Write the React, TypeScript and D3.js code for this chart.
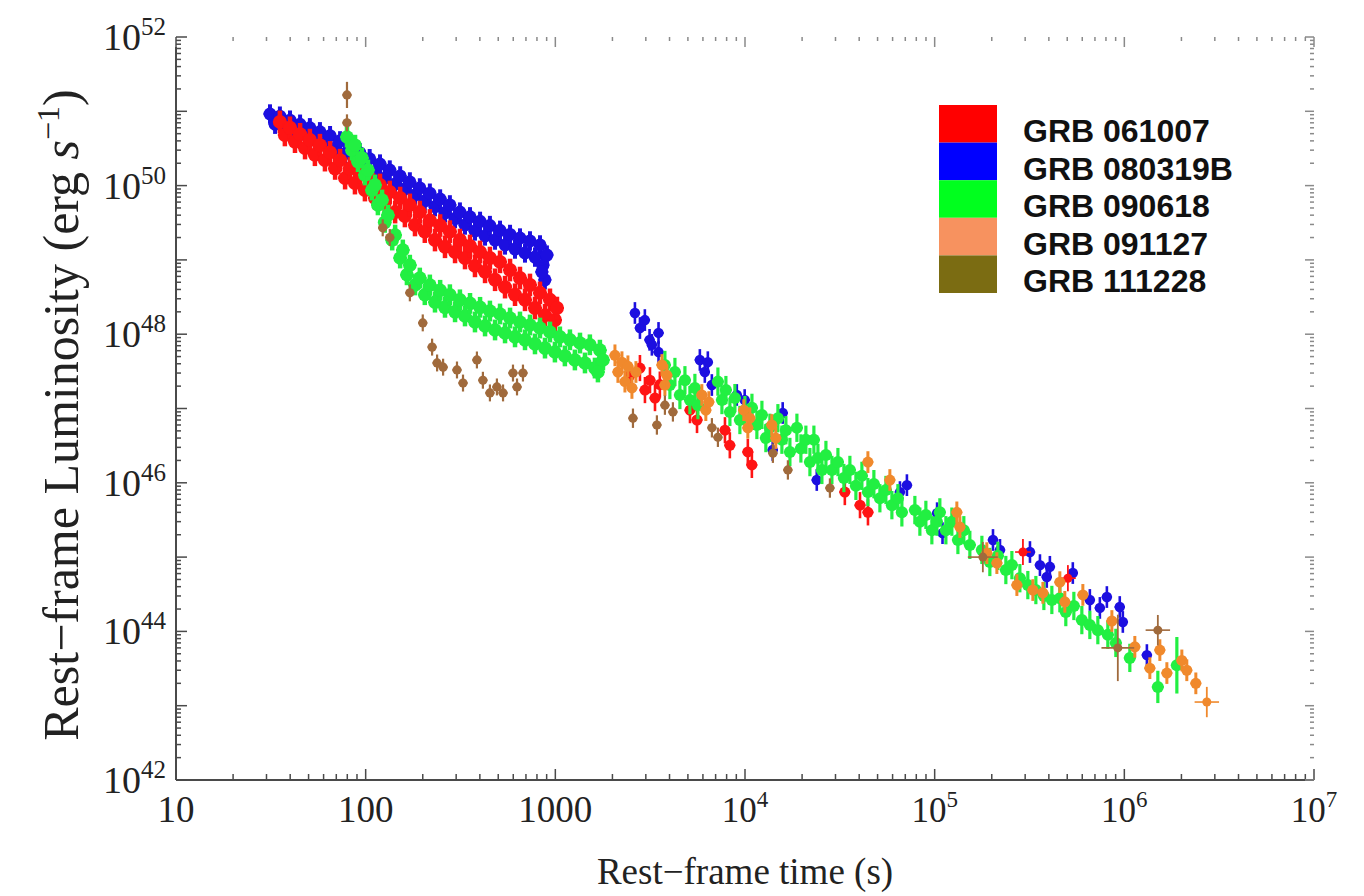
import React from 'react';
import * as d3 from 'd3';

type Pt = number[]; // [time (s), luminosity (erg/s), optional L error factor, optional t error factor]

// ---------- tick labels ----------
const xTickExps = [1, 2, 3, 4, 5, 6, 7];
const yTickExps = [42, 44, 46, 48, 50, 52];

// ---------- legend ----------
const seriesNames = ['GRB 061007', 'GRB 080319B', 'GRB 090618', 'GRB 091127', 'GRB 111228'];
const legendColors = ['#ff0000', '#0000ff', '#00ff1e', '#f7925f', '#7b6c12'];
const dataColors = ['#ff1414', '#1c0fe0', '#22ef42', '#f0892c', '#a06a3c'];

// ---------- GRB 061007 (red) ----------
const grb061007Early: Pt[] = [
  [35.3, 7.2e50], [37.5, 4.8e50], [39.9, 6.0e50], [42.4, 3.9e50], [45.1, 4.9e50], [47.9, 3.2e50],
  [50.8, 4.1e50], [54.0, 2.6e50], [57.4, 3.5e50], [61.0, 2.2e50], [64.9, 2.8e50], [69.0, 1.7e50],
  [73.3, 2.2e50], [77.9, 1.26e50], [82.6, 1.7e50], [87.8, 1.08e50], [93.3, 1.5e50], [99.1, 8.7e49],
  [105, 1.26e50], [112, 6.8e49], [119, 1.02e50], [126, 5.8e49], [134, 8.2e49], [143, 4.4e49],
  [152, 6.8e49], [161, 3.9e49], [171, 5.5e49], [182, 2.95e49], [193, 4.4e49], [205, 2.4e49],
  [218, 3.4e49], [232, 1.85e49], [247, 2.9e49], [262, 1.5e49], [278, 2.4e49], [296, 1.28e49],
  [314, 1.85e49], [334, 1.06e49], [355, 1.54e49], [377, 8.3e48], [401, 1.28e49], [426, 6.9e48],
  [452, 1.06e49], [481, 5.4e48], [511, 9.4e48], [543, 4.3e48], [577, 7.3e48], [613, 3.4e48],
  [651, 5.7e48], [692, 2.9e48], [735, 4.6e48], [781, 2.25e48], [830, 3.6e48], [882, 1.8e48],
  [937, 2.9e48], [995, 1.55e48], [1020, 2.25e48],
];
const grb061007Late: Pt[] = [
  [2473, 2.8e47], [2793, 3.5e47], [2968, 1.77e47], [3155, 2.4e47], [3353, 1.38e47], [3557, 2.1e47],
  [5129, 9.5e46], [5585, 7.0e46], [7841, 5.1e46], [8318, 3.2e46], [1.035e4, 2.6e46], [1.087e4, 1.74e46],
  [3.36e4, 7.5e45], [4.04e4, 5.0e45], [4.45e4, 4.0e45], [2.92e5, 1.17e45, 1.5, 1.1], [5.04e5, 5.2e44, 1.5, 1.1],
];

// ---------- GRB 080319B (blue) ----------
const grb080319BEarly: Pt[] = [
  [31.3, 9.2e50], [33.3, 6.7e50], [35.3, 8.6e50], [37.5, 6.2e50], [39.9, 7.6e50], [42.4, 5.4e50],
  [45.1, 6.7e50], [47.9, 4.9e50], [50.8, 6.0e50], [54.0, 4.2e50], [57.4, 5.3e50], [61.0, 3.7e50],
  [64.9, 4.7e50], [69.0, 3.2e50], [73.3, 4.0e50], [77.9, 2.7e50], [82.6, 3.3e50], [87.8, 2.2e50],
  [93.3, 2.75e50], [99.1, 1.73e50], [105, 2.3e50], [112, 1.48e50], [119, 1.95e50], [126, 1.26e50],
  [134, 1.62e50], [143, 1.05e50], [152, 1.35e50], [161, 9.0e49], [171, 1.12e50], [182, 7.5e49],
  [193, 9.3e49], [205, 6.2e49], [218, 7.9e49], [232, 5.2e49], [247, 6.6e49], [262, 4.3e49],
  [278, 5.5e49], [296, 3.6e49], [314, 4.4e49], [334, 2.95e49], [355, 3.8e49], [377, 2.45e49],
  [401, 3.3e49], [426, 2.1e49], [452, 2.9e49], [481, 1.85e49], [511, 2.5e49], [543, 1.59e49],
  [577, 2.2e49], [613, 1.4e49], [651, 1.97e49], [692, 1.24e49], [735, 1.8e49], [781, 1.09e49],
  [830, 1.59e49], [860, 8.5e48], [881, 5.4e48], [849, 6.9e48], [903, 1.16e49],
];
const grb080319BLate: Pt[] = [
  [2628, 1.93e48], [2793, 1.21e48], [2965, 1.55e48], [3139, 8.4e47], [3228, 7.2e47], [3500, 1.04e48],
  [3500, 5.75e47], [5781, 4.5e47], [6140, 3.1e47], [6368, 4.2e47], [6686, 2.07e47], [9054, 1.52e47],
  [9960, 1.3e47], [1.58e4, 8.7e46], [1.40e4, 2.76e46], [2.39e4, 1.09e46], [6.56e4, 7.5e45],
  [7.14e4, 9.3e45], [1.03e5, 3.9e45], [1.10e5, 2.1e45], [2.03e5, 1.7e45], [2.21e5, 1.25e45],
  [3.18e5, 1.17e45], [3.59e5, 7.8e44], [4.05e5, 7.4e44], [3.90e5, 5.4e44], [5.35e5, 6.1e44],
  [6.58e5, 2.65e44], [7.43e5, 2.07e44], [8.09e5, 2.9e44], [9.46e5, 2.13e44], [9.82e5, 1.34e44],
  [1.315e6, 4.8e43],
];

// ---------- GRB 090618 (green) ----------
const grb090618Early: Pt[] = [
  [79.7, 4.5e50], [84.7, 3.0e50], [87.9, 3.5e50], [91.1, 2.1e50], [95.6, 2.35e50], [99.1, 1.39e50],
  [102.8, 1.62e50], [107.9, 8.7e49], [112, 1.02e50], [116, 5.5e49], [122, 6.4e49], [126, 3.2e49],
  [131, 4.0e49], [138, 1.85e49], [143, 2.16e49], [152, 1.06e49], [157, 1.36e49], [165, 6.3e48],
  [171, 8.5e48], [182, 4.6e48], [193, 5.7e48], [205, 3.4e48], [218, 4.6e48], [232, 2.7e48],
  [247, 3.9e48], [262, 2.3e48], [278, 3.4e48], [296, 2.0e48], [314, 2.9e48], [334, 1.76e48],
  [355, 2.6e48], [377, 1.46e48], [401, 2.3e48], [426, 1.29e48], [452, 2.05e48], [481, 1.14e48],
  [511, 1.87e48], [543, 1.04e48], [577, 1.65e48], [613, 9.2e47], [651, 1.46e48], [692, 8.4e47],
  [735, 1.33e48], [781, 7.4e47], [830, 1.21e48], [882, 6.5e47], [937, 1.07e48], [995, 5.75e47],
  [1057, 9.2e47], [1123, 5.1e47], [1194, 8.4e47], [1268, 4.5e47], [1349, 7.6e47], [1433, 4.1e47],
  [1521, 7.2e47], [1617, 3.5e47], [1718, 6.1e47], [1677, 3.1e47], [1783, 4.5e47],
];
const grb090618Late: Pt[] = [
  [3782, 3.85e47], [4018, 2.07e47], [4271, 3.1e47], [4537, 1.52e47], [4823, 2.4e47], [5123, 1.3e47],
  [5443, 1.89e47], [5647, 1.11e47],
  [7197, 2.3e47], [7556, 1.3e47], [7931, 1.77e47], [8326, 9.0e46], [8845, 1.38e47], [9399, 7.0e46],
  [9988, 9.5e46],
  [1.088e4, 1.02e47], [1.155e4, 6.0e46], [1.228e4, 8.2e46], [1.288e4, 4.0e46], [1.353e4, 5.5e46],
  [1.491e4, 7.4e46], [1.565e4, 3.8e46], [1.643e4, 5.1e46], [1.725e4, 2.6e46],
  [1.878e4, 5.5e46], [1.971e4, 2.9e46], [2.094e4, 3.8e46], [2.199e4, 1.9e46],
  [2.308e4, 3.8e46], [2.424e4, 2.16e46], [2.544e4, 1.49e46],
  [2.671e4, 2.37e46], [2.872e4, 1.49e46], [3.090e4, 1.9e46], [3.322e4, 1.16e46], [3.573e4, 1.49e46],
  [3.843e4, 9.1e45], [4.134e4, 1.24e46], [4.446e4, 7.5e45], [4.781e4, 9.6e45], [5.143e4, 6.2e45],
  [5.532e4, 8.0e45], [5.949e4, 5.0e45], [6.4e4, 6.2e45], [6.716e4, 4.0e45],
  [7.864e4, 4.3e45], [8.356e4, 3.0e45], [8.988e4, 3.7e45], [9.665e4, 2.3e45], [1.027e5, 3.0e45],
  [1.065e5, 4.0e45], [1.146e5, 2.3e45], [1.232e5, 3.0e45], [1.326e5, 1.7e45], [1.425e5, 2.3e45],
  [1.533e5, 1.46e45],
  [1.774e5, 1.25e45], [1.954e5, 8.6e44], [2.154e5, 1.04e45], [2.373e5, 6.7e44], [2.553e5, 7.8e44],
  [2.813e5, 5.2e44], [3.099e5, 4.2e44], [3.416e5, 3.6e44], [3.765e5, 3.0e44], [4.148e5, 2.65e44],
  [4.571e5, 2.8e44], [4.914e5, 1.82e44], [5.418e5, 2.2e44], [5.970e5, 1.42e44], [6.578e5, 1.22e44],
  [7.25e5, 1.04e44], [8.185e5, 9.0e43], [9.02e5, 7.0e43], [1.069e6, 4.4e43],
  [1.502e6, 1.79e43, 1.65], [1.892e6, 3.5e43, 2.4],
];

// ---------- GRB 091127 (orange) ----------
const grb091127: Pt[] = [
  [2062, 5.2e47], [2138, 3.1e47], [2245, 4.2e47], [2328, 2.3e47], [2414, 3.7e47], [2534, 1.89e47],
  [2660, 3.1e47],
  [3648, 3.85e47], [3782, 2.07e47], [3871, 2.8e47],
  [5921, 1.52e47], [6216, 9.5e46], [6447, 1.22e47],
  [9856, 9.5e46], [1.035e4, 5.5e46], [1.06e4, 7.4e46],
  [1.384e4, 6.0e46], [1.453e4, 4.0e46],
  [4.446e4, 1.9e46], [5.805e4, 1.09e46], [1.309e5, 4.0e45], [1.358e5, 2.54e45], [1.884e5, 1.13e45],
  [2.128e5, 8.3e44], [2.713e5, 4.2e44], [3.293e5, 3.6e44], [3.72e5, 3.3e44], [4.571e5, 4.6e44],
  [4.856e5, 2.5e44], [6.044e5, 3.1e44], [8.596e5, 1.38e44], [1.136e6, 6.2e43], [1.363e6, 3.2e43],
  [1.539e6, 5.6e43], [1.676e6, 2.75e43], [2.01e6, 4.07e43], [2.135e6, 3.0e43], [2.382e6, 2.0e43],
  [2.722e6, 1.12e43, 1.6, 1.16],
];

// ---------- GRB 111228 (brown) ----------
const grb111228Early: Pt[] = [
  [79.7, 1.66e51, 1.5], [79.7, 7.0e50], [123, 2.7e49], [134, 2.0e49], [171, 3.6e48], [200, 1.42e48],
  [224, 6.7e47], [238, 4.1e47], [256, 3.6e47], [303, 3.3e47], [326, 2.2e47], [386, 4.5e47],
  [415, 2.4e47], [452, 1.62e47], [492, 1.95e47], [530, 1.62e47], [598, 3.0e47], [628, 1.95e47],
  [675, 3.0e47],
];
const grb111228Late: Pt[] = [
  [2566, 7.4e46], [3431, 6.0e46], [3782, 1.11e47], [4168, 9.0e46], [6692, 5.5e46], [7197, 4.1e46],
  [1.403e4, 2.5e46], [1.683e4, 1.49e46], [2.803e4, 8.5e45], [1.795e5, 1.0e45, 1.6, 1.2],
  [1.502e6, 1.04e44, 1.6, 1.16], [9.24e5, 6.0e43, 2.8, 1.22],
];

// draw order: blue, red, green, orange, brown
const layers = [
  { idx: 1, segments: [{ pts: grb080319BEarly, err: 1.35, r: 6.5, w: 4 }, { pts: grb080319BLate, err: 1.4, r: 5.2, w: 2.6 }] },
  { idx: 0, segments: [{ pts: grb061007Early, err: 1.42, r: 7, w: 4.5 }, { pts: grb061007Late, err: 1.5, r: 5.5, w: 2.6 }] },
  { idx: 2, segments: [{ pts: grb090618Early, err: 1.38, r: 6.8, w: 4.5 }, { pts: grb090618Late, err: 1.55, r: 6, w: 3.2 }] },
  { idx: 3, segments: [{ pts: grb091127, err: 1.4, r: 5.5, w: 3 }] },
  { idx: 4, segments: [{ pts: grb111228Early, err: 1.3, r: 4.6, w: 2.2 }, { pts: grb111228Late, err: 1.35, r: 4.6, w: 2.2 }] },
];

const W = 1364;
const H = 896;
const X0 = 176, X1 = 1314, Y0 = 780, Y1 = 37;
const serif = '"Liberation Serif", "Times New Roman", serif';
const sans = '"Liberation Sans", Arial, sans-serif';

export default function App() {
  const x = d3.scaleLog().domain([10, 1e7]).range([X0, X1]);
  const y = d3.scaleLog().domain([1e42, 1e52]).range([Y0, Y1]);

  const isMajor = (v: number) => Math.abs(Math.log10(v) - Math.round(Math.log10(v))) < 1e-9;
  const xTicks = x.ticks(40);
  const yTicks = y.ticks(40);
  const axisColor = '#4a4a4a';
  const faint = '#8a8a8a';

  const renderPoint = (p: Pt, err: number, r: number, w: number, color: string, key: string) => {
    const [t, L] = p;
    const e = p[2] ?? err;
    const te = p[3];
    const cx = x(t), cy = y(L);
    const xa = te ? x(t / te) : cx - r;
    const xb = te ? x(t * te) : cx + r;
    return (
      <g key={key}>
        <line x1={cx} x2={cx} y1={y(L * e)} y2={y(L / e)} stroke={color} strokeWidth={te ? 1.8 : w} />
        <line x1={xa} x2={xb} y1={cy} y2={cy} stroke={color} strokeWidth={te ? 1.6 : 2} />
        <circle cx={cx} cy={cy} r={te ? 4.5 : r} fill={color} />
      </g>
    );
  };

  return (
    <svg width={W} height={H} style={{ position: 'absolute', left: 0, top: 0, background: '#fff' }}>
      <rect x={0} y={0} width={W} height={H} fill="#fff" />

      {/* data */}
      <g>
        {layers.map((layer) =>
          layer.segments.map((seg, si) =>
            seg.pts.map((p, i) =>
              renderPoint(p, seg.err, seg.r, seg.w, dataColors[layer.idx], `${layer.idx}-${si}-${i}`)
            )
          )
        )}
      </g>

      {/* axes lines */}
      <line x1={X0} x2={X0} y1={Y1} y2={Y0} stroke={axisColor} strokeWidth={2} />
      <line x1={X0} x2={X1} y1={Y0} y2={Y0} stroke={axisColor} strokeWidth={2} />

      {/* bottom & top ticks */}
      {xTicks.map((v, i) => {
        const px = x(v);
        const maj = isMajor(v);
        return (
          <g key={`xt${i}`}>
            <line x1={px} x2={px} y1={Y0} y2={Y0 - (maj ? 11 : 6)} stroke={axisColor} strokeWidth={1.5} />
            <line x1={px} x2={px} y1={Y1} y2={Y1 + (maj ? 10 : 4)} stroke={faint} strokeWidth={1.5} />
          </g>
        );
      })}

      {/* left & right ticks */}
      {yTicks.map((v, i) => {
        const py = y(v);
        const maj = isMajor(v);
        return (
          <g key={`yt${i}`}>
            <line x1={X0} x2={X0 + (maj ? 11 : 5)} y1={py} y2={py} stroke={axisColor} strokeWidth={1.5} />
            <line x1={X1} x2={X1 - (maj ? 9 : 4)} y1={py} y2={py} stroke={faint} strokeWidth={1.5} />
          </g>
        );
      })}

      {/* x tick labels */}
      {xTickExps.map((k) => {
        const px = x(Math.pow(10, k));
        if (k <= 3) {
          return (
            <text key={`xl${k}`} x={px} y={822} textAnchor="middle" fontFamily={serif} fontSize={37} fill="#222">
              {String(Math.pow(10, k))}
            </text>
          );
        }
        return (
          <text key={`xl${k}`} x={px} y={822} textAnchor="middle" fontFamily={serif} fontSize={35} fill="#222">
            10
            <tspan fontSize={23} dy={-15}>{k}</tspan>
          </text>
        );
      })}

      {/* y tick labels */}
      {yTickExps.map((k) => {
        const py = y(Math.pow(10, k));
        return (
          <text key={`yl${k}`} x={166} y={py + 13} textAnchor="end" fontFamily={serif} fontSize={38} fill="#222">
            10
            <tspan fontSize={25} dy={-15}>{k}</tspan>
          </text>
        );
      })}

      {/* axis titles */}
      <text x={745} y={884} textAnchor="middle" fontFamily={serif} fontSize={37} fill="#222">
        Rest−frame time (s)
      </text>
      <text transform="translate(78,415) rotate(-90)" textAnchor="middle" fontFamily={serif} fontSize={50} fill="#222">
        Rest−frame Luminosity (erg <tspan fontStyle="italic">s</tspan>
        <tspan fontSize={32} dy={-19}>−1</tspan>
        <tspan dy={19}>)</tspan>
      </text>

      {/* legend */}
      <g>
        {seriesNames.map((name, i) => {
          const top = 105 + i * 37.6;
          return (
            <g key={`lg${i}`}>
              <rect x={939} y={top} width={58} height={37.6} fill={legendColors[i]} />
              <text x={1023} y={top + 37} fontFamily={sans} fontWeight="bold" fontSize={32} fill="#111">
                {name}
              </text>
            </g>
          );
        })}
      </g>
    </svg>
  );
}
